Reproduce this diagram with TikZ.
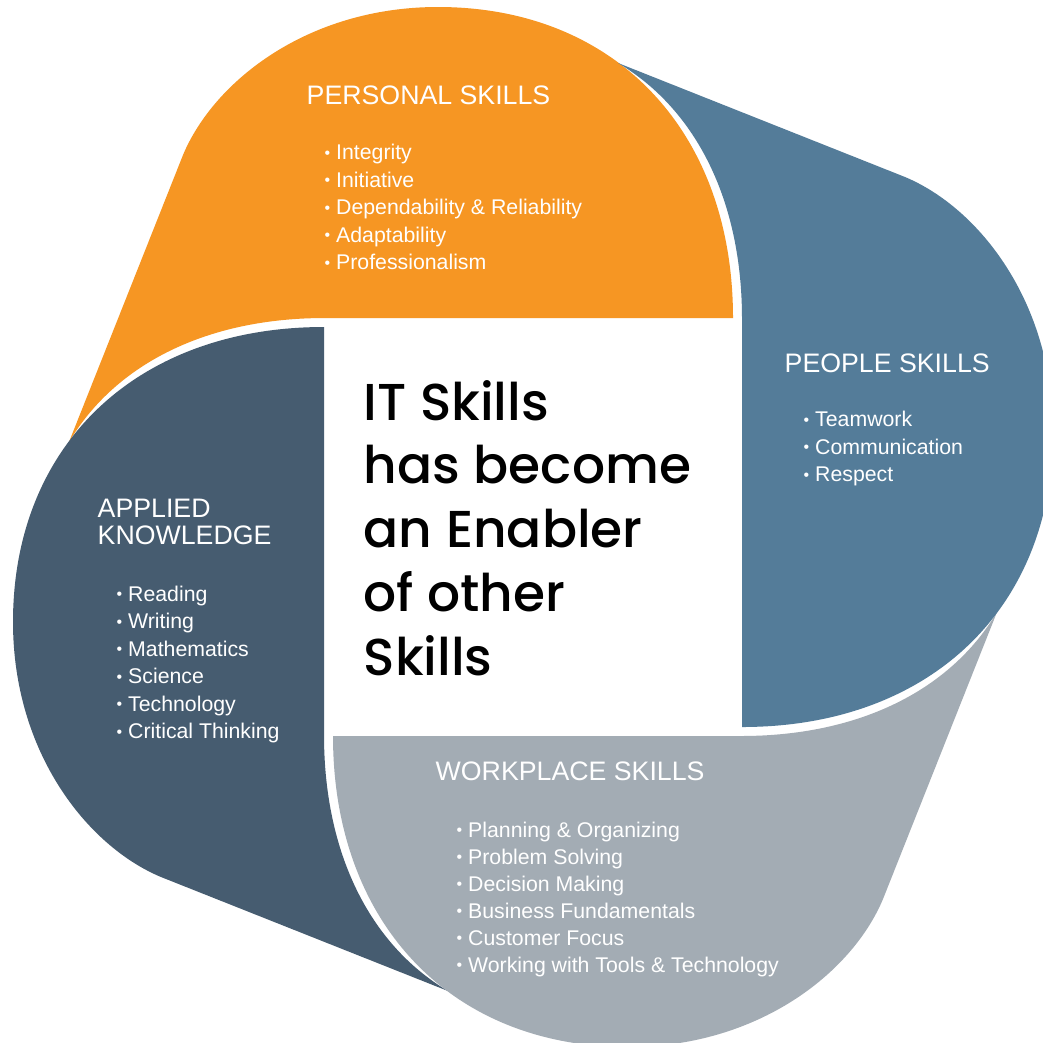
\documentclass[tikz,border=0pt]{standalone}
\usepackage{fontspec}
\setmainfont{Liberation Sans}
\newfontfamily\centrefont{Poppins Medium}

\definecolor{personal}{HTML}{F69623}
\definecolor{people}{HTML}{547C99}
\definecolor{applied}{HTML}{465C70}
\definecolor{workplace}{HTML}{A3ACB4}

% small bullet in front of each skill
\newcommand{\bul}{\raisebox{0.12ex}{\scalebox{0.75}{•}}}

% one petal of the wheel, around the centre of the white square
\newcommand{\petal}[1]{%
  \fill[#1] (-208,-209) -- (200,-209)
    .. controls (200,-396) and (82,-520) .. (-95,-520)
    .. controls (-225,-520) and (-319,-446) .. (-350,-372)
    -- (-464,-85)
    .. controls (-417,-164) and (-325,-209) .. (-208,-209) -- cycle;}

\begin{document}
\begin{tikzpicture}[x=0.01cm,y=-0.01cm,
    heading/.style={text=white,inner sep=0,anchor=base west,font=\fontsize{7.6}{7.7}\selectfont},
    skill/.style={text=white,inner sep=0,anchor=base west,font=\fontsize{6.05}{7.8}\selectfont},
    enabler/.style={inner sep=0,anchor=base west,font=\centrefont\fontsize{14.75}{18}\selectfont}]
    \useasboundingbox (0,0) rectangle (1043,1042);
    \fill[white] (0,0) rectangle (1043,1042);

    \foreach \ang/\col in {0/personal,90/applied,180/workplace,-90/people}
      \begin{scope}[shift={(533,527)},rotate=\ang]
        \petal{\col}
      \end{scope};

    % personal skills
    \node[heading] (personal) at (306,104) {PERSONAL SKILLS};
    \foreach \txt [count=\i] in {Integrity,Initiative,Dependability \& Reliability,Adaptability,Professionalism}
      \node[skill] (personal\i) at (324,132+27.5*\i) {\bul\ \txt};

    % people skills
    \node[heading] (people) at (784,372) {PEOPLE SKILLS};
    \foreach \txt [count=\i] in {Teamwork,Communication,Respect}
      \node[skill] (people\i) at (803,399+27.5*\i) {\bul\ \txt};

    % applied knowledge
    \node[heading] (applied) at (97,517) {APPLIED};
    \node[heading] (knowledge) at (97,544) {KNOWLEDGE};
    \foreach \txt [count=\i] in {Reading,Writing,Mathematics,Science,Technology,Critical Thinking}
      \node[skill] (applied\i) at (116,573.5+27.5*\i) {\bul\ \txt};

    % workplace skills
    \node[heading] (workplace) at (435,780) {WORKPLACE SKILLS};
    \foreach \txt [count=\i] in {Planning \& Organizing,Problem Solving,Decision Making,Business Fundamentals,Customer Focus,Working with Tools \& Technology}
      \node[skill] (workplace\i) at (456,810+27*\i) {\bul\ \txt};

    % centre
    \foreach \txt [count=\i] in {IT Skills,has become,an Enabler,of other,Skills}
      \node[enabler] (centre\i) at (363,356.25+63.75*\i) {\txt};
\end{tikzpicture}
\end{document}
